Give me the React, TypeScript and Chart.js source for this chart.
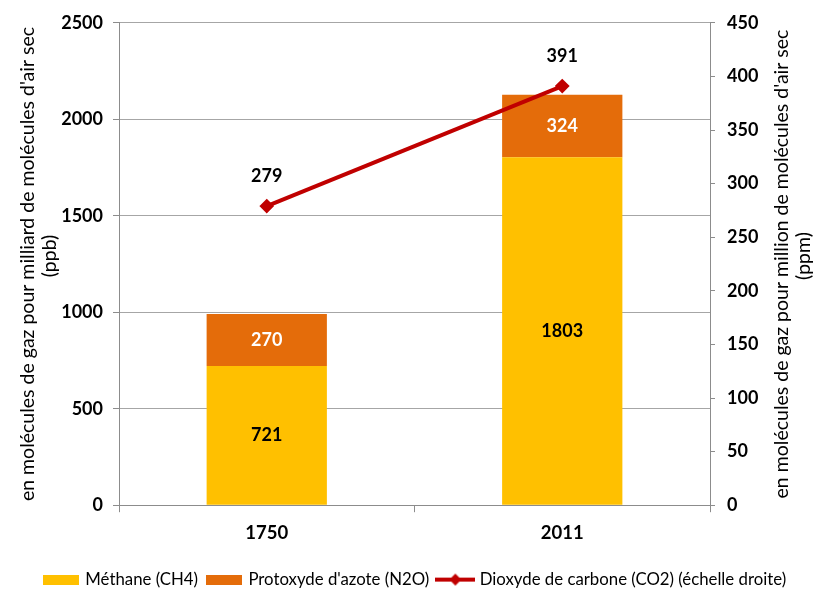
import React, { useEffect, useRef } from "react";
import { Chart, registerables } from "chart.js";

Chart.register(...registerables);

const categories = ["1750", "2011"];
const methane = [721, 1803];
const n2o = [270, 324];
const co2 = [279, 391];
const seriesNames = ["Méthane (CH4)", "Protoxyde d'azote (N2O)", "Dioxyde de carbone (CO2) (échelle droite)"];
const leftTitle = ["en molécules de gaz pour milliard de molécules d'air sec", "(ppb)"];
const rightTitle = ["en molécules de gaz pour million de molécules d'air sec", "(ppm)"];

const C_METH = "#FFC000";
const C_N2O = "#E46C0A";
const C_CO2 = "#C00000";
const FONT = "Lato";

function rectIcon(color: string) {
  const c = document.createElement("canvas");
  c.width = 36;
  c.height = 10;
  const ctx = c.getContext("2d")!;
  ctx.fillStyle = color;
  ctx.fillRect(0, 0, 36, 10);
  return c;
}
function lineIcon(color: string) {
  const c = document.createElement("canvas");
  c.width = 40;
  c.height = 14;
  const ctx = c.getContext("2d")!;
  ctx.fillStyle = color;
  ctx.fillRect(0, 5, 40, 4);
  ctx.beginPath();
  ctx.moveTo(20, 1);
  ctx.lineTo(26, 7);
  ctx.lineTo(20, 13);
  ctx.lineTo(14, 7);
  ctx.closePath();
  ctx.fill();
  return c;
}

const labelPlugin = {
  id: "valueLabels",
  afterDatasetsDraw(chart: any) {
    const ctx = chart.ctx;
    ctx.save();
    ctx.textAlign = "center";
    ctx.textBaseline = "middle";
    ctx.font = `bold 18px ${FONT}`;
    chart.data.datasets.forEach((ds: any, di: number) => {
      const meta = chart.getDatasetMeta(di);
      meta.data.forEach((el: any, i: number) => {
        const v = ds.data[i];
        if (ds.type === "line") {
          ctx.fillStyle = "#000";
          ctx.fillText(String(v), el.x, el.y - 30);
        } else {
          ctx.fillStyle = di === 0 ? "#000" : "#fff";
          ctx.fillText(String(v), el.x, (el.y + el.base) / 2);
        }
      });
    });
    ctx.restore();
  },
  afterDraw(chart: any) {
    const ctx = chart.ctx;
    const area = chart.chartArea;
    const cy = (area.top + area.bottom) / 2;
    const draw = (text: string, x: number, y: number, size: number) => {
      ctx.save();
      ctx.translate(x, y);
      ctx.rotate(-Math.PI / 2);
      ctx.textAlign = "center";
      ctx.textBaseline = "middle";
      ctx.fillStyle = "#000";
      ctx.font = `${size}px ${FONT}`;
      ctx.fillText(text, 0, 0);
      ctx.restore();
    };
    draw(leftTitle[0], 28, cy, 19.5);
    draw(leftTitle[1], 50, cy - 8, 19.5);
    draw(rightTitle[0], 782, cy, 19.5);
    draw(rightTitle[1], 804, cy - 8, 19.5);
  },
};

export default function App() {
  const ref = useRef<HTMLCanvasElement>(null);
  useEffect(() => {
    const icons = [rectIcon(C_METH), rectIcon(C_N2O), lineIcon(C_CO2)];
    const fmt = (v: any) => String(v);
    const chart = new Chart(ref.current!, {
      data: {
        labels: categories,
        datasets: [
          { type: "bar", label: seriesNames[0], data: methane, backgroundColor: C_METH, yAxisID: "y", order: 1, barPercentage: 0.407, categoryPercentage: 1 },
          { type: "bar", label: seriesNames[1], data: n2o, backgroundColor: C_N2O, yAxisID: "y", order: 1, barPercentage: 0.407, categoryPercentage: 1 },
          {
            type: "line", label: seriesNames[2], data: co2, yAxisID: "y1", order: 0,
            borderColor: C_CO2, backgroundColor: C_CO2, borderWidth: 4,
            pointStyle: "rectRot", pointRadius: 6, pointBorderWidth: 2, pointBackgroundColor: C_CO2, pointBorderColor: C_CO2,
          },
        ],
      } as any,
      options: {
        animation: false,
        responsive: false,
        layout: { padding: { left: 12, right: 0, top: 16, bottom: -7 } },
        plugins: {
          tooltip: { enabled: false },
          legend: {
            position: "bottom",
            labels: {
              usePointStyle: true,
              pointStyleWidth: 32,
              boxWidth: 32,
              boxHeight: 17,
              padding: 10,
              color: "#000",
              font: { family: FONT, size: 16.8 },
              generateLabels: () =>
                seriesNames.map((t, i) => ({
                  text: t,
                  pointStyle: icons[i],
                  fillStyle: "transparent",
                  strokeStyle: "transparent",
                  lineWidth: 0,
                  hidden: false,
                  datasetIndex: i,
                  fontColor: "#000",
                })),
            },
          },
        },
        scales: {
          x: {
            stacked: true,
            afterFit: (s: any) => { s.height = 56; },
            grid: { display: true, drawOnChartArea: false, drawTicks: true, tickLength: 7, tickColor: "#8c8c8c", offset: true },
            border: { display: true, color: "#8c8c8c" },
            ticks: { color: "#000", font: { family: FONT, size: 18.5, weight: "bold" }, padding: 10 },
          },
          y: {
            stacked: true,
            position: "left",
            min: 0,
            max: 2500,
            afterFit: (s: any) => { s.width = 107; },
            ticks: { stepSize: 500, color: "#000", font: { family: FONT, size: 18, weight: "bold" }, padding: 10, callback: fmt },
            grid: { color: "#a6a6a6", tickColor: "#8c8c8c", tickLength: 6 },
            border: { display: true, color: "#8c8c8c" },
          },
          y1: {
            stacked: false,
            position: "right",
            min: 0,
            max: 450,
            afterFit: (s: any) => { s.width = 109; },
            ticks: { stepSize: 50, color: "#000", font: { family: FONT, size: 18, weight: "bold" }, padding: 12, callback: fmt },
            grid: { drawOnChartArea: false, tickColor: "#8c8c8c", tickLength: 5 },
            border: { display: true, color: "#8c8c8c" },
          },
        },
      } as any,
      plugins: [labelPlugin],
    });
    return () => chart.destroy();
  }, []);
  return (
    <div style={{ position: "fixed", left: 0, top: 0, width: 819, height: 591, background: "#fff" }}>
      <canvas ref={ref} width={819} height={591} style={{ width: 819, height: 591, display: "block" }} />
    </div>
  );
}
